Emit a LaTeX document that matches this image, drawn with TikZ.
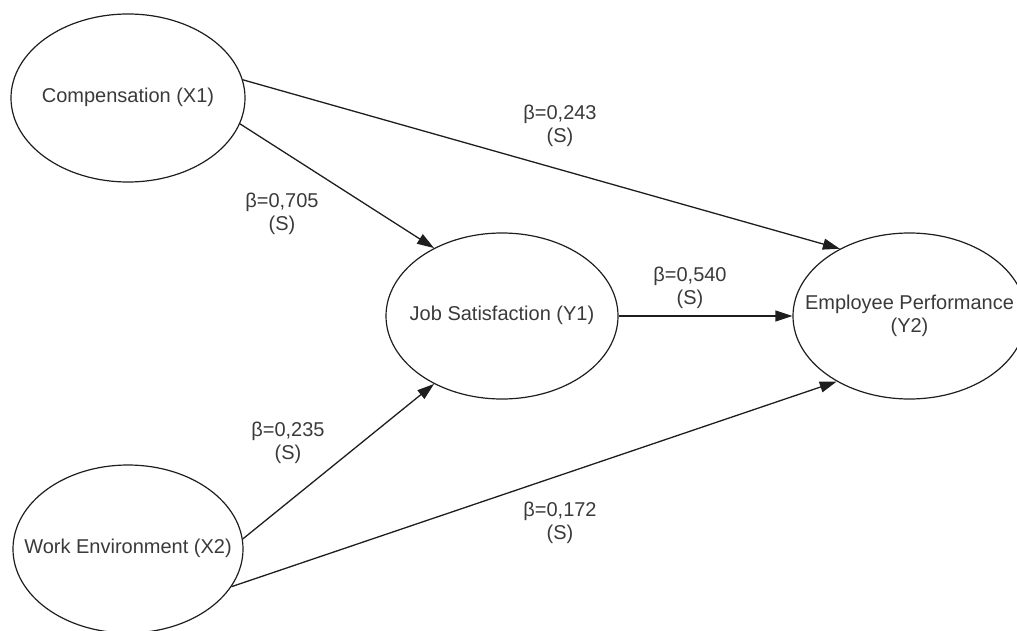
\documentclass[tikz,border=0pt]{standalone}
\usepackage{fontspec}
\setmainfont{Liberation Sans}
\usetikzlibrary{shapes.geometric,arrows.meta}
\definecolor{txtgray}{HTML}{3A3A3A}
\definecolor{linegray}{HTML}{1E1E1E}
\newcommand{\zerowide}[1]{\makebox[0pt]{\begin{tabular}{@{}c@{}}#1\end{tabular}}}
\tikzset{
  latent/.style={ellipse, draw=linegray, line width=1.2pt, inner sep=0pt,
    text=txtgray, font=\fontsize{20}{24}\selectfont},
  path/.style={draw=linegray, line width=1.3pt,
    -{Triangle[length=17pt,width=11pt]}},
  coef/.style={text=txtgray, align=center, inner sep=0pt,
    font=\fontsize{20}{22.5}\selectfont}
}
\begin{document}
\begin{tikzpicture}[x=1pt,y=-1pt]
\useasboundingbox (0,0) rectangle (1017,631);
\begin{scope}
\clip (0,0) rectangle (1017,631);
\node[latent, minimum width=234pt, minimum height=168pt] (comp) at (128,98) {\zerowide{Compensation (X1)}};
\node[latent, minimum width=232pt, minimum height=166pt] (js) at (502,316) {\zerowide{Job Satisfaction (Y1)}};
\node[latent, minimum width=233pt, minimum height=166pt] (ep) at (909.5,316) {\zerowide{Employee Performance\\[-1pt](Y2)}};
\node[latent, minimum width=230pt, minimum height=168pt] (we) at (128,549) {\zerowide{Work Environment (X2)}};

\draw[path] (comp.9) -- (ep.136.6);
\draw[path] (comp.-13) -- (js.135);
\draw[path] (js.0) -- (ep.180);
\draw[path] (we.5) -- (js.225);
\draw[path] (we.-20) -- (ep.222);
\end{scope}

\node[coef] (c1) at (560,126) {β=0,243\\(S)};
\node[coef] (c2) at (282,214) {β=0,705\\(S)};
\node[coef] (c3) at (690,288) {β=0,540\\(S)};
\node[coef] (c4) at (288,443) {β=0,235\\(S)};
\node[coef] (c5) at (560,523) {β=0,172\\(S)};
\end{tikzpicture}
\end{document}
